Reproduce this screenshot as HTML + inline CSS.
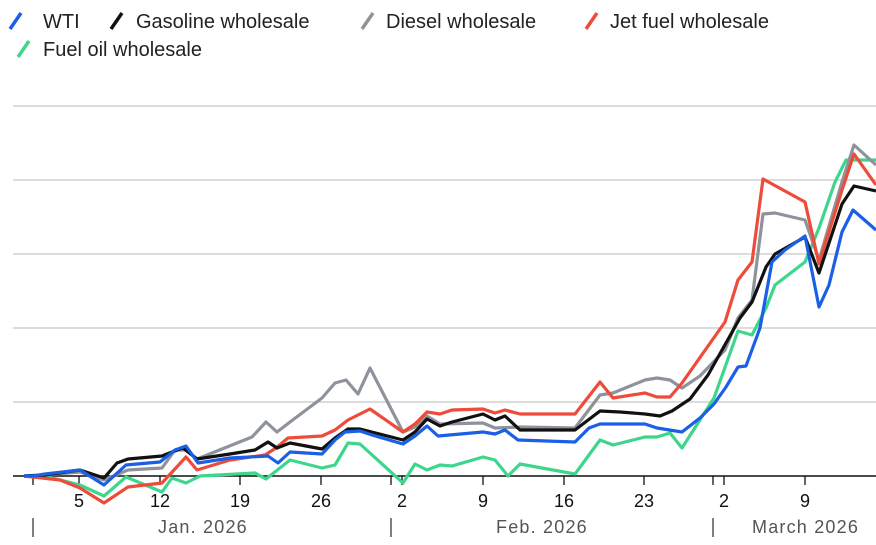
<!DOCTYPE html>
<html><head><meta charset="utf-8"><style>
body{margin:0;background:#fff;}
svg{display:block;font-family:"Liberation Sans",sans-serif;}
</style></head><body>
<svg width="876" height="545" viewBox="0 0 876 545">
<g font-size="20" fill="#222">
<line x1="10" y1="29" x2="21" y2="13" stroke="#1a5fe6" stroke-width="3.5"/><text x="43" y="28">WTI</text>
<line x1="111" y1="29" x2="122" y2="13" stroke="#111" stroke-width="3.5"/><text x="136" y="28">Gasoline wholesale</text>
<line x1="362" y1="29" x2="373" y2="13" stroke="#8e939b" stroke-width="3.5"/><text x="386" y="28">Diesel wholesale</text>
<line x1="586" y1="29" x2="597" y2="13" stroke="#ee4b3a" stroke-width="3.5"/><text x="610" y="28">Jet fuel wholesale</text>
<line x1="18" y1="57" x2="29" y2="41" stroke="#3dd68c" stroke-width="3.5"/><text x="43" y="56">Fuel oil wholesale</text>
</g>
<g stroke="#c8c8c8" stroke-width="1.3">
<line x1="13" y1="106" x2="876" y2="106"/><line x1="13" y1="180" x2="876" y2="180"/>
<line x1="13" y1="254" x2="876" y2="254"/><line x1="13" y1="328" x2="876" y2="328"/>
<line x1="13" y1="402" x2="876" y2="402"/>
</g>
<line x1="13" y1="476" x2="876" y2="476" stroke="#111" stroke-width="1.5"/>
<g stroke="#111" stroke-width="1.3">
<line x1="33" y1="476" x2="33" y2="485"/><line x1="79" y1="476" x2="79" y2="485"/><line x1="160" y1="476" x2="160" y2="485"/><line x1="240" y1="476" x2="240" y2="485"/><line x1="321" y1="476" x2="321" y2="485"/><line x1="391" y1="476" x2="391" y2="485"/><line x1="402" y1="476" x2="402" y2="485"/><line x1="483" y1="476" x2="483" y2="485"/><line x1="564" y1="476" x2="564" y2="485"/><line x1="644" y1="476" x2="644" y2="485"/><line x1="713" y1="476" x2="713" y2="485"/><line x1="724" y1="476" x2="724" y2="485"/><line x1="805" y1="476" x2="805" y2="485"/>
</g>
<g font-size="18" fill="#111" text-anchor="middle">
<text x="79" y="507">5</text><text x="160" y="507">12</text><text x="240" y="507">19</text><text x="321" y="507">26</text><text x="402" y="507">2</text><text x="483" y="507">9</text><text x="564" y="507">16</text><text x="644" y="507">23</text><text x="724" y="507">2</text><text x="805" y="507">9</text>
</g>
<g stroke="#555" stroke-width="1.5"><line x1="33" y1="518" x2="33" y2="537"/><line x1="391" y1="518" x2="391" y2="537"/><line x1="713" y1="518" x2="713" y2="537"/></g>
<g font-size="18" fill="#555" letter-spacing="1.2">
<text x="158" y="533">Jan. 2026</text><text x="496" y="533">Feb. 2026</text><text x="752" y="533">March 2026</text>
</g>
<g fill="none" stroke-width="3.2" stroke-linejoin="round">
<polyline stroke="#3dd68c" points="24,476 45,476 80,485 104,496 126,477 162,492 172,478 186,483 200,476 255,473 266,479 290,460 322,468 335,465 348,443 360,444 403,483 415,464 427,470 440,465 452,466 483,457 495,460 508,476 520,464 575,474 600,440 613,445 645,437 657,437 670,433 682,448 714,398 738,331 752,335 766,308 775,285 805,262 819,228 835,182 846,160 876,160"/>
<polyline stroke="#8e939b" points="24,476 45,475 80,472 104,480 128,470 162,468 175,450 186,450 197,459 252,437 266,422 277,432 290,422 322,398 335,383 346,380 358,394 370,368 403,432 415,427 427,416 440,424 483,423 495,428 520,427 575,428 600,395 613,393 645,380 657,378 670,380 682,388 700,376 725,350 738,318 752,300 763,214 775,213 805,220 819,260 842,182 854,145 876,165"/>
<polyline stroke="#ee4b3a" points="24,476 60,480 80,488 104,503 128,487 162,483 186,457 197,470 230,460 265,455 276,448 288,438 322,436 335,430 348,420 370,409 403,432 415,424 427,412 440,414 452,410 483,409 495,413 505,410 520,414 575,414 600,382 613,398 645,393 657,397 670,397 682,383 725,322 738,280 752,262 763,179 805,202 819,264 842,190 854,154 876,185"/>
<polyline stroke="#111" points="24,476 45,475 80,470 104,478 117,463 128,459 162,456 172,452 183,448 197,459 230,454 255,450 268,442 277,448 290,443 322,449 335,438 348,429 360,429 403,440 415,432 427,419 440,426 452,422 483,414 495,420 505,416 520,430 575,430 600,411 620,412 645,414 660,416 672,411 690,399 708,375 740,318 752,302 766,267 775,254 805,237 819,273 842,204 854,186 876,191"/>
<polyline stroke="#1a5fe6" points="24,476 33,476 45,474 80,470 104,485 126,465 160,462 175,450 186,446 198,463 230,458 268,456 278,463 290,452 322,454 335,440 345,432 360,431 372,435 403,444 415,436 427,426 438,436 483,432 495,434 505,430 518,440 575,442 589,428 600,424 645,424 657,428 682,432 700,418 714,404 726,387 738,367 746,366 760,328 772,262 785,250 805,236 819,307 829,285 842,232 853,210 876,230"/>
</g>
</svg>
</body></html>
